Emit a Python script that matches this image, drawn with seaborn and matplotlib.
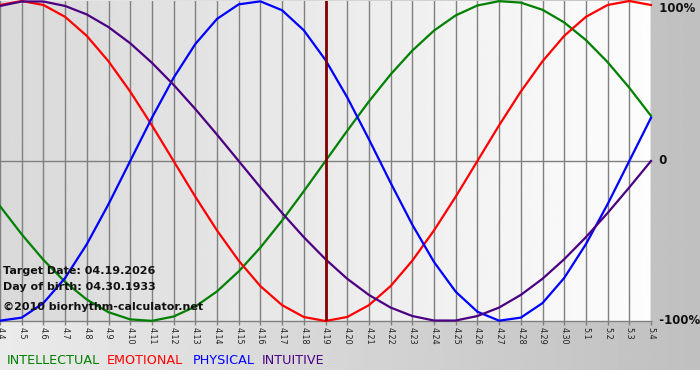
import numpy as np
import pandas as pd
import matplotlib
matplotlib.use("Agg")
import matplotlib.pyplot as plt
import seaborn as sns

# ---- data ----
day_labels = ["4.4", "4.5", "4.6", "4.7", "4.8", "4.9", "4.10", "4.11", "4.12", "4.13",
              "4.14", "4.15", "4.16", "4.17", "4.18", "4.19", "4.20", "4.21", "4.22", "4.23",
              "4.24", "4.25", "4.26", "4.27", "4.28", "4.29", "4.30", "5.1", "5.2", "5.3", "5.4"]

intellectual = [-0.282, -0.458, -0.618, -0.756, -0.866, -0.945, -0.990, -0.999, -0.972, -0.910,
                -0.815, -0.690, -0.541, -0.372, -0.189, 0.000, 0.189, 0.372, 0.541, 0.690,
                0.815, 0.910, 0.972, 0.999, 0.990, 0.945, 0.866, 0.756, 0.618, 0.458, 0.282]

emotional = [0.975, 1.000, 0.975, 0.901, 0.782, 0.623, 0.434, 0.223, 0.000, -0.223,
             -0.434, -0.623, -0.782, -0.901, -0.975, -1.000, -0.975, -0.901, -0.782, -0.623,
             -0.434, -0.223, 0.000, 0.223, 0.434, 0.623, 0.782, 0.901, 0.975, 1.000, 0.975]

physical = [-0.998, -0.979, -0.888, -0.731, -0.520, -0.270, 0.000, 0.270, 0.520, 0.731,
            0.888, 0.979, 0.998, 0.942, 0.817, 0.631, 0.398, 0.136, -0.136, -0.398,
            -0.631, -0.817, -0.942, -0.998, -0.979, -0.888, -0.731, -0.520, -0.270, 0.000, 0.270]

intuitive = [0.969, 0.997, 0.997, 0.969, 0.916, 0.837, 0.736, 0.614, 0.476, 0.325,
             0.165, 0.000, -0.165, -0.325, -0.476, -0.614, -0.736, -0.837, -0.916, -0.969,
             -0.997, -0.997, -0.969, -0.916, -0.837, -0.736, -0.614, -0.476, -0.325, -0.165, 0.000]

target_label = "4.19"
y_labels = ["100%", "0", "-100%"]
y_values = [1, 0, -1]

series_names = ["INTELLECTUAL", "EMOTIONAL", "PHYSICAL", "INTUITIVE"]
colors = {"INTELLECTUAL": "#008000", "EMOTIONAL": "#ff0000",
          "PHYSICAL": "#0000ff", "INTUITIVE": "#4b0082"}

rows = []
for name, vals in zip(series_names, [intellectual, emotional, physical, intuitive]):
    for i, v in enumerate(vals):
        rows.append({"day": i, "value": v, "cycle": name})
df = pd.DataFrame(rows)

# ---- figure ----
W, H = 700, 380
fig = plt.figure(figsize=(W / 100, H / 100), dpi=100)
fig.patch.set_facecolor("white")

def fx(px):
    return px / W

def fy(py):
    return 1 - py / H

# outer grey gradient background
bg = fig.add_axes([0, fy(370), 1, 370 / H], zorder=-10)
grad = np.linspace(0.92, 0.75, 256)[None, :]
bg.imshow(grad, cmap="gray", vmin=0, vmax=1, aspect="auto", extent=[0, 1, 0, 1])
bg.set_axis_off()

# main plot area
ax = fig.add_axes([0, fy(321), fx(651), 320 / H])
ax.set_facecolor("none")
inner = np.linspace(0.85, 0.99, 256)[None, :]
ax.imshow(inner, cmap="gray", vmin=0, vmax=1, aspect="auto",
          extent=[0, len(day_labels) - 1, -1, 1], zorder=0)

ax.set_xticks(range(len(day_labels)))
ax.set_xticklabels(day_labels, rotation=-90, fontsize=5.8, color="#222222")
ax.grid(axis="x", color="#808080", lw=1.0, zorder=1)
ax.grid(axis="y", visible=False)
ax.axhline(0, color="#808080", lw=1.0, zorder=1)
ax.set_axisbelow(False)

sns.lineplot(data=df, x="day", y="value", hue="cycle", hue_order=series_names,
             palette=colors, lw=1.6, legend=False, ax=ax, zorder=3)
for ln in ax.lines:
    ln.set_clip_on(False)
    ln.set_solid_joinstyle("round")

ax.axvline(day_labels.index(target_label), color="#800000", lw=2.0, zorder=4)

ax.set_xlim(0, len(day_labels) - 1)
ax.set_ylim(-1, 1)
ax.set_yticks([])
ax.set_xlabel("")
ax.set_ylabel("")
for s in ["top", "left", "right"]:
    ax.spines[s].set_visible(False)
ax.spines["bottom"].set_color("#808080")
ax.spines["bottom"].set_linewidth(1.0)
ax.tick_params(axis="x", direction="out", length=3, width=1, color="#808080", pad=1.5)

# right-hand labels
label_va = {"100%": "top", "0": "center", "-100%": "center"}
label_dy = {"100%": -1.0, "0": 0.0, "-100%": 0.0}
for lab, val in zip(y_labels, y_values):
    ax.annotate("  " + lab, xy=(1.0, (val + 1) / 2), xycoords="axes fraction",
                xytext=(0, label_dy[lab]), textcoords="offset points",
                ha="left", va=label_va[lab], fontsize=8.5, fontweight="bold",
                color="#111111", annotation_clip=False)

# info text
info_kw = dict(fontsize=8, fontweight="bold", color="#111111", ha="left", va="center")
fig.text(fx(3), fy(271), "Target Date: 04.19.2026", **info_kw)
fig.text(fx(3), fy(287), "Day of birth: 04.30.1933", **info_kw)
fig.text(fx(3), fy(307), "\u00a92010 biorhythm-calculator.net", **info_kw)

# legend words
leg_x = [7, 107, 193, 262]
for name, x in zip(series_names, leg_x):
    fig.text(fx(x), fy(361), name, color=colors[name], fontsize=9.2, ha="left", va="center")

fig.savefig("out.png", dpi=100)
